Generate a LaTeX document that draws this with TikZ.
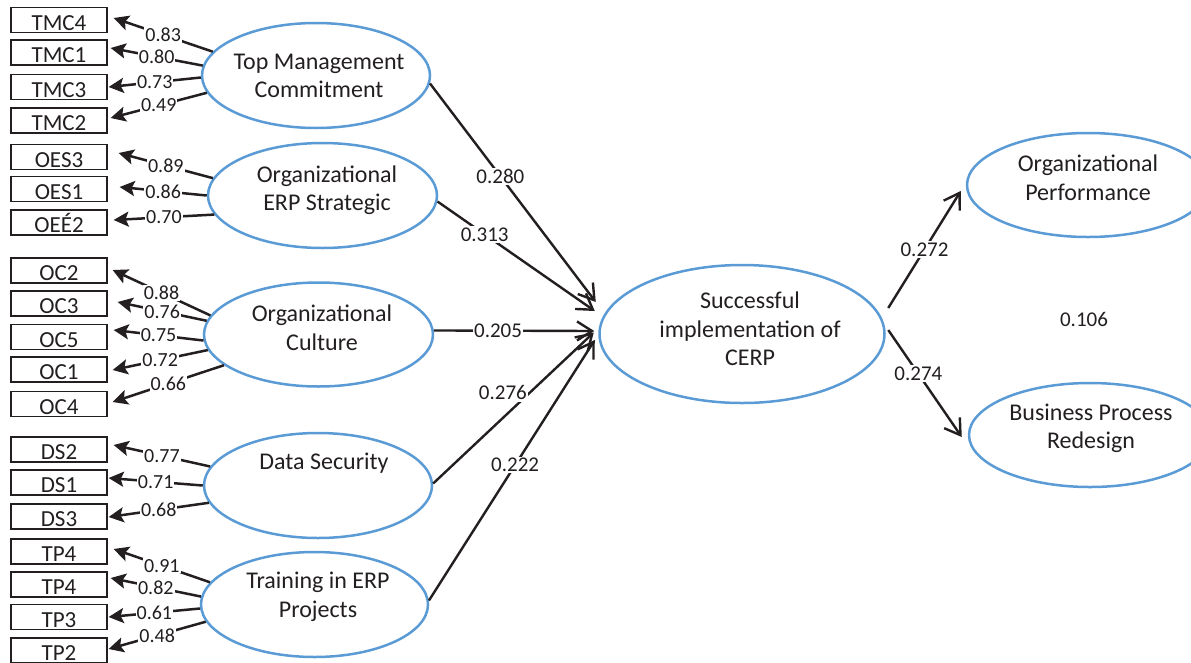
\documentclass[tikz,border=0pt]{standalone}
\usepackage{fontspec}
\setmainfont{Carlito}
\usetikzlibrary{shapes.geometric,arrows.meta}
\definecolor{ink}{HTML}{231F20}
\definecolor{latblue}{HTML}{5B9BD5}
\begin{document}
\begin{tikzpicture}[x=1pt,y=-1pt,
  latent/.style={ellipse,draw=latblue,line width=2.5pt,inner sep=0pt},
  ltext/.style={align=center,text=ink,inner sep=0pt,font=\fontsize{24}{28.5}\selectfont},
  indbox/.style={draw=ink,line width=1.3pt,fill=white,minimum width=96pt,inner xsep=0pt,
    inner ysep=2.5pt,text height=20pt,text depth=0pt,text=ink,font=\fontsize{23}{27}\selectfont},
  load/.style={draw=ink,line width=2.5pt,-{Stealth[length=15pt,width=15pt,inset=3pt]}},
  loadlbl/.style={fill=white,inner sep=1pt,text=ink,font=\fontsize{20}{24}\selectfont},
  struct/.style={draw=ink,line width=2.4pt,-{Straight Barb[length=15pt,width=19pt]}},
  slbl/.style={fill=white,inner sep=1.5pt,text=ink,font=\fontsize{21}{25}\selectfont},
]
\path[use as bounding box] (0,0) rectangle (1191,662);

% latent constructs
\node[latent,minimum width=228pt,minimum height=105pt] (TMC) at (316,75.5) {};
\node[latent,minimum width=229pt,minimum height=105pt] (OES) at (322.5,195.5) {};
\node[latent,minimum width=229pt,minimum height=104pt] (OC)  at (318.5,334.5) {};
\node[latent,minimum width=228pt,minimum height=105pt] (DS)  at (318,485.5) {};
\node[latent,minimum width=227pt,minimum height=105pt] (TP)  at (314.5,604.5) {};
\node[latent,minimum width=285pt,minimum height=138pt] (SI)  at (742,334) {};
\node[latent,minimum width=242pt,minimum height=104pt] (OP)  at (1088,185) {};
\node[latent,minimum width=242pt,minimum height=104pt] (BPR) at (1090,435) {};

\node[ltext] (TMCt) at (319,76) {Top Management\\Commitment};
\node[ltext] (OESt) at (327,190) {Organizational\\ERP Strategic};
\node[ltext] (OCt)  at (322,327.5) {Organizational\\Culture};
\node[ltext] (DSt)  at (324,463) {Data Security};
\node[ltext] (TPt)  at (318,597) {Training in ERP\\Projects};
\node[ltext] (SIt)  at (750,329) {Successful\\implementation of\\CERP};
\node[ltext] (OPt)  at (1088,178) {Organizational\\Performance};
\node[ltext] (BPRt) at (1091,428.5) {Business Process\\Redesign};

% indicator boxes
\node[indbox] (TMC4) at (59,20) {TMC4};
\node[indbox] (TMC1) at (59,52.5) {TMC1};
\node[indbox] (TMC3) at (59,87) {TMC3};
\node[indbox] (TMC2) at (59,120.5) {TMC2};
\node[indbox] (OES3) at (59,157) {OES3};
\node[indbox] (OES1) at (59,189) {OES1};
\node[indbox] (OEE2) at (59,222.5) {OEÉ2};
\node[indbox] (OC2)  at (59,270.5) {OC2};
\node[indbox] (OC3)  at (59,303.5) {OC3};
\node[indbox] (OC5)  at (59,337) {OC5};
\node[indbox] (OC1)  at (59,369.5) {OC1};
\node[indbox] (OC4)  at (59,404) {OC4};
\node[indbox] (DS2)  at (59,449.5) {DS2};
\node[indbox] (DS1)  at (59,482.5) {DS1};
\node[indbox] (DS3)  at (59,516.5) {DS3};
\node[indbox] (TP4a) at (59,551.5) {TP4};
\node[indbox] (TP4b) at (59,584.5) {TP4};
\node[indbox] (TP3)  at (59,617) {TP3};
\node[indbox] (TP2)  at (59,650.5) {TP2};

% loadings
\draw[load] (TMC.167) -- node[loadlbl]{0.83} ([shift={(6,-2)}]TMC4.east);
\draw[load] (TMC.175) -- node[loadlbl]{0.80} ([shift={(3,-4.5)}]TMC1.east);
\draw[load] (TMC.181) -- node[loadlbl]{0.73} ([shift={(1,0)}]TMC3.east);
\draw[load] (TMC.189) -- node[loadlbl]{0.49} ([shift={(3,-2.5)}]TMC2.east);

\draw[load] (OES.171) -- node[loadlbl]{0.89} ([shift={(11,-4)}]OES3.east);
\draw[load] (OES.180) -- node[loadlbl]{0.86} ([shift={(12,-2)}]OES1.east);
\draw[load] (OES.190) -- node[loadlbl]{0.70} ([shift={(6,-2.5)}]OEE2.east);

\draw[load] (OC.170) -- node[loadlbl]{0.88} ([shift={(5,-0.5)}]OC2.east);
\draw[load] (OC.173) -- node[loadlbl]{0.76} ([shift={(10,-1.5)}]OC3.east);
\draw[load] (OC.183) -- node[loadlbl]{0.75} ([shift={(6,-7)}]OC5.east);
\draw[load] (OC.188) -- node[loadlbl]{0.72} ([shift={(5,0.5)}]OC1.east);
\draw[load] (OC.198) -- node[loadlbl]{0.66} ([shift={(5,-2)}]OC4.east);

\draw[load] (DS.170) -- node[loadlbl]{0.77} ([shift={(6,-4.5)}]DS2.east);
\draw[load] (DS.180) -- node[loadlbl]{0.71} ([shift={(1,-4.5)}]DS1.east);
\draw[load] (DS.189) -- node[loadlbl]{0.68} ([shift={(1,0.5)}]DS3.east);

\draw[load] (TP.168) -- node[loadlbl]{0.91} ([shift={(6,-2.5)}]TP4a.east);
\draw[load] (TP.176) -- node[loadlbl]{0.82} ([shift={(3,-6.5)}]TP4b.east);
\draw[load] (TP.182) -- node[loadlbl]{0.61} ([shift={(1,0)}]TP3.east);
\draw[load] (TP.189) -- node[loadlbl]{0.48} ([shift={(1,-1.5)}]TP2.east);

% structural paths
\draw[struct] (TMC.356) -- node[slbl,pos=0.425]{0.280} ([shift={(-2.5,-32)}]SI.west);
\draw[struct] (OES.357) -- node[slbl,pos=0.3]{0.313} ([shift={(-3.5,-23)}]SI.west);
\draw[struct] (OC.2) -- node[slbl,pos=0.4]{0.205} ([shift={(-4,-3)}]SI.west);
\draw[struct] (DS.1) -- node[slbl,pos=0.6,anchor=east]{0.276} ([shift={(-4.5,-1.5)}]SI.west);
\draw[struct] (TP.2) -- node[slbl,pos=0.52]{0.222} ([shift={(-3.5,6)}]SI.west);

\draw[struct] ([shift={(2.5,-26)}]SI.east) -- node[slbl,pos=0.5]{0.272} ([shift={(-5,6)}]OP.west);
\draw[struct] ([shift={(2.5,-4)}]SI.east) -- node[slbl,pos=0.41]{0.274} ([shift={(-6,2)}]BPR.west);

\node[slbl,fill=none] (R2) at (1084,319) {0.106};
\end{tikzpicture}
\end{document}
